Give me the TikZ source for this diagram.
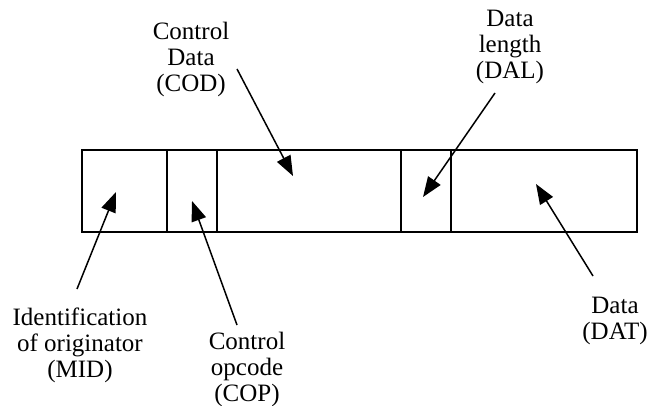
\documentclass[tikz,border=0pt]{standalone}
\usepackage{fontspec}
\setmainfont{Liberation Serif}
\usetikzlibrary{positioning, arrows.meta}

\begin{document}
\begin{tikzpicture}[
  x=1pt, y=-1pt,
  >={Triangle[length=20pt,width=15pt]},
  every node/.style={font=\fontsize{25}{26}\selectfont},
  field/.style={draw, line width=2pt, minimum height=82pt, inner sep=0pt, outer sep=0pt},
  lbl/.style={align=center, inner sep=0pt},
  ptr/.style={->, line width=1.5pt}
]
\useasboundingbox (0,0) rectangle (653,406);

% The frame and its fields
\node[field, minimum width=85pt, anchor=west] (mid) at (82,191) {};
\node[field, minimum width=50pt, right=0pt of mid] (cop) {};
\node[field, minimum width=184pt, right=0pt of cop] (cod) {};
\node[field, minimum width=50pt, right=0pt of cod] (dal) {};
\node[field, minimum width=186pt, right=0pt of dal] (dat) {};

% Labels above
\node[lbl] (codlbl) at (191,59) {Control\\Data\\(COD)};
\node[lbl] (dallbl) at (510,47) {Data\\length\\(DAL)};

% Labels below
\node[lbl] (midlbl) at (80,345) {Identification\\of originator\\(MID)};
\node[lbl] (coplbl) at (247,369) {Control\\opcode\\(COP)};
\node[lbl] (datlbl) at (615,321) {Data\\(DAT)};

% Arrow tails and tips
\coordinate (codtail) at (237,69);
\coordinate (codtip) at (293,176);
\coordinate (daltail) at (495,93);
\coordinate (daltip) at (423,197);
\coordinate (midtail) at (77,289);
\coordinate (midtip) at (116,192);
\coordinate (coptail) at (237,325);
\coordinate (coptip) at (192,201);
\coordinate (dattail) at (593,276);
\coordinate (dattip) at (536,184);

% Pointers
\draw[ptr] (codtail) -- (codtip);
\draw[ptr] (daltail) -- (daltip);
\draw[ptr] (midtail) -- (midtip);
\draw[ptr] (coptail) -- (coptip);
\draw[ptr] (dattail) -- (dattip);

\end{tikzpicture}
\end{document}
